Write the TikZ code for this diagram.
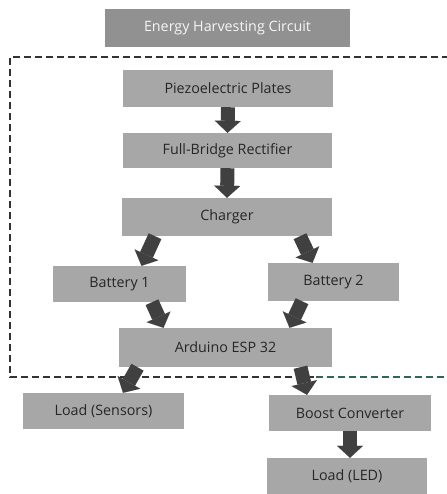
\documentclass[tikz,border=0pt]{standalone}
\usepackage{fontspec}
\setmainfont{Open Sans}
\usetikzlibrary{arrows.meta}

\definecolor{boxgray}{HTML}{A7A7A7}
\definecolor{titlegray}{HTML}{919191}
\definecolor{inkgray}{HTML}{262626}
\definecolor{arrowgray}{HTML}{404040}
\definecolor{frameline}{HTML}{333333}
\definecolor{frametint}{HTML}{2F6656}

\tikzset{
  block/.style={rectangle, fill=boxgray, text=inkgray, inner sep=0pt,
    font=\fontsize{14.3}{17}\selectfont},
  titleblock/.style={block, fill=titlegray, text=white!93!gray},
  flow/.style={draw=arrowgray, line width=14pt,
    -{Triangle[length=12pt, width=26pt, line width=0.01pt]}},
  frame/.style={draw=frameline, line width=1.3pt, dash pattern=on 7pt off 4pt},
}

\begin{document}
\begin{tikzpicture}[x=1pt, y=-1pt]
\useasboundingbox (0,0) rectangle (446,494);

% dashed enclosure (open on the right)
\coordinate (frTR) at (460,57);
\coordinate (frTL) at (10,57);
\coordinate (frBL) at (10,377);
\coordinate (frBM) at (316,377);
\coordinate (frBR) at (460,377);
\draw[frame] (frTR) -- (frTL) -- (frBL) -- (frBM);
\draw[frame, draw=frametint] (frBM) -- (frBR);

% blocks
\node[titleblock, minimum width=245pt, minimum height=38pt] (energy) at (227.5,28) {Energy Harvesting Circuit};
\node[block, minimum width=210pt, minimum height=37pt] (piezo) at (228,88.5) {Piezoelectric Plates};
\node[block, minimum width=209pt, minimum height=35pt] (rect) at (227.5,150.5) {Full-Bridge Rectifier};
\node[block, minimum width=210pt, minimum height=38pt] (charger) at (227,217) {Charger};
\node[block, minimum width=133pt, minimum height=36pt] (bat1) at (119.5,284) {Battery 1};
\node[block, minimum width=131pt, minimum height=38pt] (bat2) at (333.5,282) {Battery 2};
\node[block, minimum width=213pt, minimum height=39pt] (esp) at (225.5,347.5) {Arduino ESP 32};
\node[block, minimum width=161pt, minimum height=36pt] (sensors) at (103.5,411) {Load (Sensors)};
\node[block, minimum width=162pt, minimum height=36pt] (boost) at (350,413) {Boost Converter};
\node[block, minimum width=160pt, minimum height=36pt] (led) at (347,476) {Load (LED)};

% block arrows
\draw[flow] (piezo.south) -- (rect.north);
\draw[flow] (rect.south) -- (charger.north);
\draw[flow] ([xshift=-72pt]charger.south) -- ([xshift=22pt]bat1.north);
\draw[flow] ([xshift=73pt]charger.south) -- ([xshift=-21pt]bat2.north);
\draw[flow] ([xshift=32.5pt]bat1.south) -- ([xshift=-62pt]esp.north);
\draw[flow] ([xshift=-31.5pt]bat2.south) -- ([xshift=64pt]esp.north);
\draw[flow] ([xshift=-88pt]esp.south) -- ([xshift=19.5pt]sensors.north);
\draw[flow] ([xshift=75pt]esp.south) -- ([xshift=-43pt]boost.north);
\draw[flow] (boost.south) -- ([xshift=3pt]led.north);
\end{tikzpicture}
\end{document}
